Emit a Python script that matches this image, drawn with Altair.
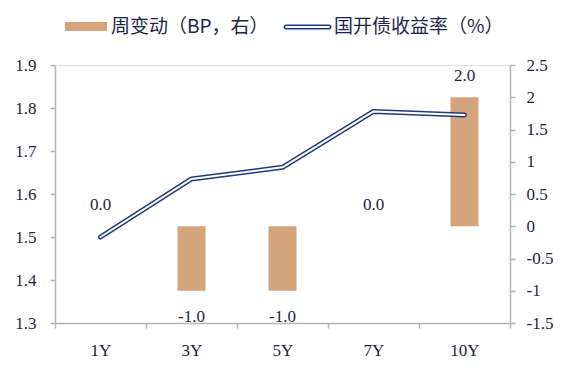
import altair as alt
import pandas as pd

tenors = ["1Y", "3Y", "5Y", "7Y", "10Y"]
change_bp = [0.0, -1.0, -1.0, 0.0, 2.0]
yield_pct = [1.50, 1.635, 1.662, 1.792, 1.784]

bar_label = "周变动（BP，右）"
line_label = "国开债收益率（%）"

BAR_COLOR = "#D4A47C"
LINE_COLOR = "#1F3A78"
TEXT_COLOR = "#1c2548"
AXIS_COLOR = "#b5b5b5"
SERIF = "Liberation Serif"
CJK = "Noto Sans CJK SC"

df = pd.DataFrame({"tenor": tenors, "chg": change_bp, "yld": yield_pct})
df["lab"] = [f"{v:.1f}" for v in change_bp]

x_enc = alt.X(
    "tenor:N",
    sort=tenors,
    scale=alt.Scale(paddingInner=0, paddingOuter=0),
    axis=alt.Axis(
        title=None, labelAngle=0, tickBand="extent", labelFont=SERIF,
        labelFontSize=17, labelColor=TEXT_COLOR, labelPadding=14,
        domainColor=AXIS_COLOR, tickColor=AXIS_COLOR, tickSize=5,
        domainWidth=1.5, tickWidth=1.5, grid=False,
    ),
)

y_right = alt.Scale(domain=[-1.5, 2.5], nice=False, zero=False)
right_axis = alt.Axis(
    orient="right", title=None, values=[-1.5, -1, -0.5, 0, 0.5, 1, 1.5, 2, 2.5],
    labelFont=SERIF, labelFontSize=17, labelColor=TEXT_COLOR,
    labelPadding=11, domainColor=AXIS_COLOR, tickColor=AXIS_COLOR,
    tickSize=5, domainWidth=1.5, tickWidth=1.5, grid=False,
    labelOverlap=False, labelExpr="toString(datum.value)",
)

bars = alt.Chart(df).mark_bar(color=BAR_COLOR, size=28).encode(
    x=x_enc,
    y=alt.Y("chg:Q", scale=y_right, axis=right_axis),
    y2=alt.datum(0),
)

texts_pos = alt.Chart(df).transform_filter("datum.chg >= 0").mark_text(
    font=SERIF, fontSize=17, color=TEXT_COLOR, baseline="middle", dy=-21
).encode(
    x=alt.X("tenor:N", sort=tenors),
    y=alt.Y("chg:Q", scale=y_right, axis=right_axis),
    text="lab:N",
)
texts_neg = alt.Chart(df).transform_filter("datum.chg < 0").mark_text(
    font=SERIF, fontSize=17, color=TEXT_COLOR, baseline="middle", dy=26
).encode(
    x=alt.X("tenor:N", sort=tenors),
    y=alt.Y("chg:Q", scale=y_right, axis=right_axis),
    text="lab:N",
)

left_axis = alt.Axis(
    orient="left", title=None, values=[1.3, 1.4, 1.5, 1.6, 1.7, 1.8, 1.9],
    format=".1f", labelFont=SERIF, labelFontSize=17, labelColor=TEXT_COLOR,
    labelPadding=14, domainColor=AXIS_COLOR, tickColor=AXIS_COLOR,
    tickSize=5, domainWidth=1.5, tickWidth=1.5, grid=False, labelOverlap=False,
)
y_left_scale = alt.Scale(domain=[1.3, 1.9], nice=False, zero=False)

line_outer = alt.Chart(df).mark_line(
    color=LINE_COLOR, strokeWidth=5, strokeCap="round", strokeJoin="round"
).encode(x=alt.X("tenor:N", sort=tenors),
         y=alt.Y("yld:Q", scale=y_left_scale, axis=left_axis))
line_inner = alt.Chart(df).mark_line(
    color="white", strokeWidth=2, strokeCap="round", strokeJoin="round"
).encode(x=alt.X("tenor:N", sort=tenors),
         y=alt.Y("yld:Q", scale=y_left_scale, axis=left_axis))

leg = pd.DataFrame({"a": [0]})
leg_rect = alt.Chart(leg).mark_rect(color=BAR_COLOR).encode(
    x=alt.value(10), x2=alt.value(52), y=alt.value(-43), y2=alt.value(-34)
)
leg_t1 = alt.Chart(leg).mark_text(
    font=CJK, fontSize=19, color=TEXT_COLOR, align="left", baseline="middle"
).encode(x=alt.value(56), y=alt.value(-38), text=alt.value(bar_label))
leg_l1 = alt.Chart(leg).mark_rule(color=LINE_COLOR, strokeWidth=5, strokeCap="round").encode(
    x=alt.value(231), x2=alt.value(274), y=alt.value(-38)
)
leg_l2 = alt.Chart(leg).mark_rule(color="white", strokeWidth=2, strokeCap="round").encode(
    x=alt.value(231), x2=alt.value(274), y=alt.value(-38)
)
leg_t2 = alt.Chart(leg).mark_text(
    font=CJK, fontSize=19, color=TEXT_COLOR, align="left", baseline="middle"
).encode(x=alt.value(279), y=alt.value(-38), text=alt.value(line_label))

right_layer = alt.layer(bars, texts_pos, texts_neg)
left_layer = alt.layer(line_outer, line_inner)

chart = alt.layer(
    right_layer, left_layer, leg_rect, leg_t1, leg_l1, leg_l2, leg_t2
).resolve_scale(y="independent").properties(
    width=455, height=258,
    autosize=alt.AutoSizeParams(type="none"),
    padding={"left": 47, "top": 57, "right": 52, "bottom": 38},
).configure_view(stroke=None).configure(background="white")

chart.save("out.html", embed_options={"renderer": "svg", "actions": False})
